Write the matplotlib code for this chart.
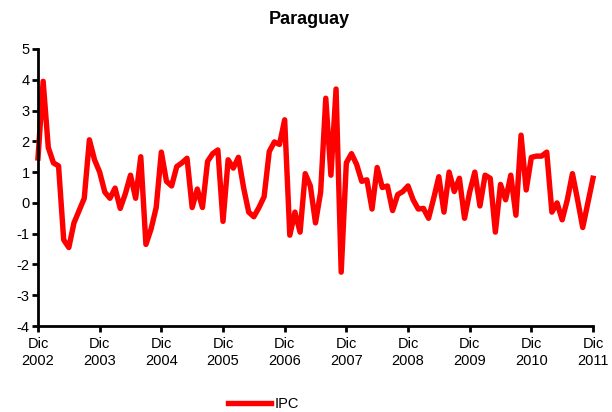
import matplotlib
matplotlib.use('Agg')
import matplotlib.pyplot as plt

plt.rcParams['font.family'] = ['Liberation Sans', 'DejaVu Sans']
plt.rcParams['axes.unicode_minus'] = False

# monthly IPC variation, Dec 2002 .. Dec 2011
ipc = [1.46, 3.95, 1.8, 1.3, 1.2, -1.2, -1.45, -0.65, -0.25, 0.15, 2.05, 1.4,
       1.0, 0.35, 0.15, 0.48, -0.18, 0.3, 0.9, 0.15, 1.5, -1.35, -0.85, -0.15,
       1.65, 0.7, 0.55, 1.18, 1.3, 1.45, -0.15, 0.45, -0.15, 1.35, 1.6, 1.72,
       -0.6, 1.4, 1.13, 1.48, 0.5, -0.3, -0.45, -0.15, 0.2, 1.67, 1.98, 1.9,
       2.7, -1.05, -0.3, -0.95, 0.95, 0.55, -0.65, 0.35, 3.4, 0.9, 3.7, -2.25,
       1.3, 1.6, 1.25, 0.7, 0.75, -0.2, 1.15, 0.5, 0.55, -0.25, 0.27, 0.37,
       0.55, 0.1, -0.2, -0.18, -0.5, 0.15, 0.85, -0.3, 1.0, 0.37, 0.8, -0.5,
       0.35, 1.0, -0.1, 0.9, 0.8, -0.95, 0.6, 0.1, 0.9, -0.4, 2.2, 0.42,
       1.48, 1.52, 1.52, 1.65, -0.3, 0.0, -0.55, 0.1, 0.95, 0.1, -0.8, 0.0,
       0.8]
years = ['2002', '2003', '2004', '2005', '2006', '2007', '2008', '2009', '2010', '2011']
month_label = 'Dic'

fig = plt.figure(figsize=(6.12, 4.12), dpi=100)
ax = fig.add_axes([38 / 612, 1 - 326 / 412, 555 / 612, 277 / 412])

ax.plot(range(len(ipc)), ipc, color='#ff0000', lw=3.9, label='IPC',
        solid_joinstyle='round', clip_on=False)

ax.set_xlim(0, len(ipc) - 1)
ax.set_ylim(-4, 5)
ax.set_yticks(range(-4, 6))
ax.set_xticks(range(0, len(ipc), 12))
ax.set_xticklabels([month_label + '\n' + y for y in years], linespacing=1.3)

for s in ['top', 'right']:
    ax.spines[s].set_visible(False)
for s in ['left', 'bottom']:
    ax.spines[s].set_linewidth(2)
ax.tick_params(axis='both', direction='out', length=4, width=2, labelsize=10.5)
ax.tick_params(axis='x', pad=4)
ax.tick_params(axis='y', pad=2)

fig.text(0.505, 1 - 20 / 412, 'Paraguay', fontsize=13, fontweight='bold',
         ha='center', va='center')

fig.legend(loc='lower center', bbox_to_anchor=(0.43, -0.03), frameon=False,
           fontsize=10.5, handlelength=3.0, handletextpad=0.2)

fig.savefig('out.png', dpi=100)
